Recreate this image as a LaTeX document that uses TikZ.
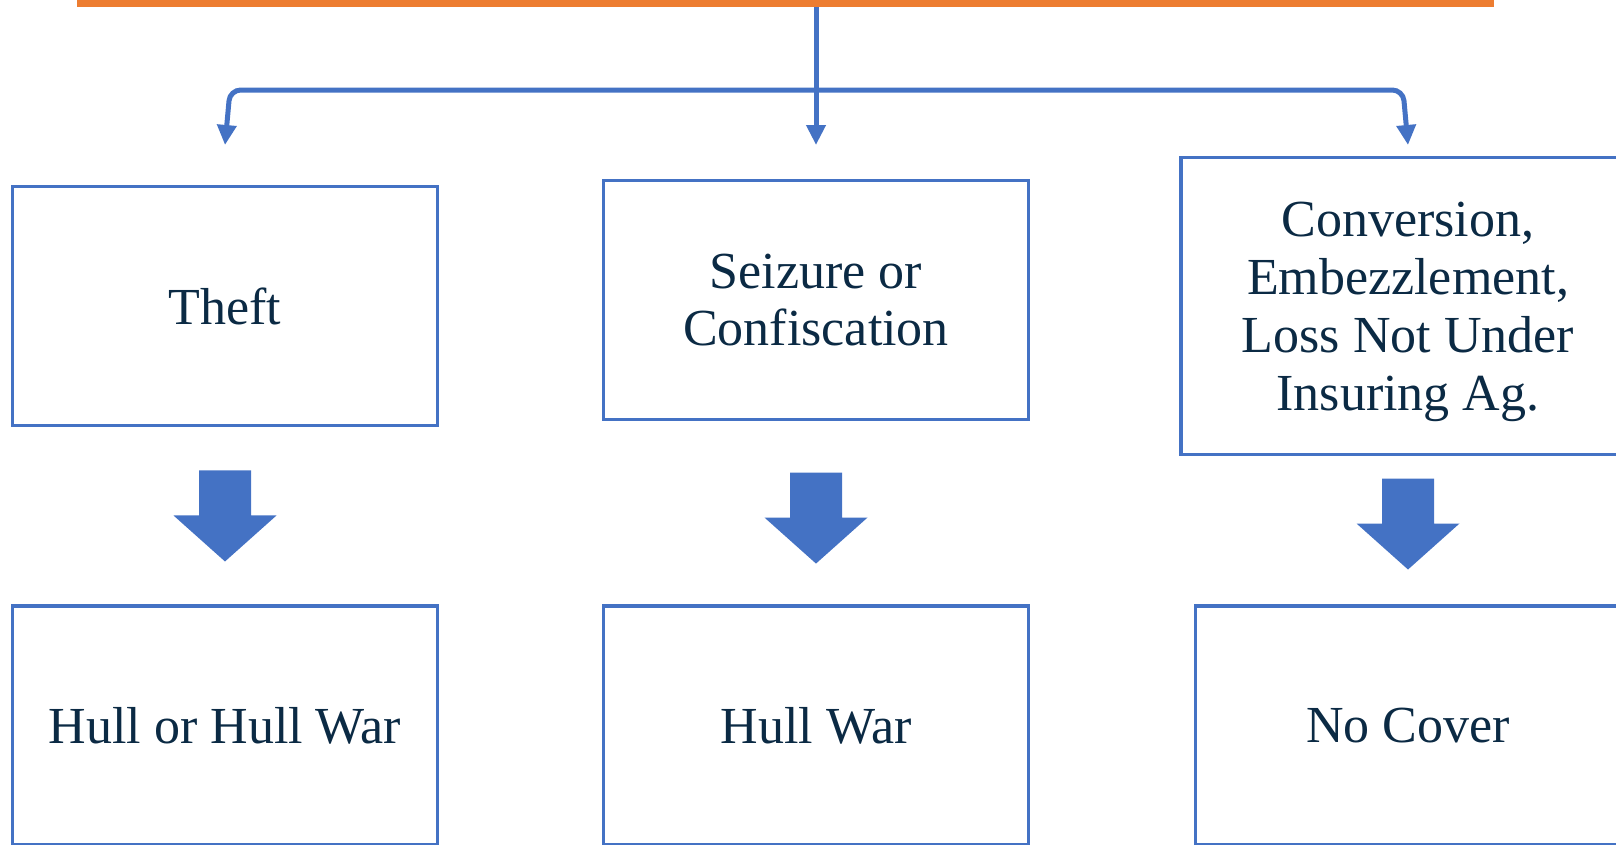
\documentclass[tikz,border=0pt]{standalone}
\usepackage{fontspec}
\setmainfont{Liberation Serif}
\usetikzlibrary{arrows.meta,calc}
\definecolor{officeblue}{RGB}{68,114,196}
\definecolor{officeorange}{RGB}{237,125,49}
\definecolor{inkblue}{RGB}{11,42,68}
\tikzset{%
  >={Triangle[width=14pt,length=15pt]},
  % Specifications for style of nodes:
  titlebar/.style = {rectangle, fill=officeorange, anchor=south,
                     minimum width=1062.75pt, minimum height=60pt},
  case/.style = {rectangle, draw=officeblue, line width=2.6pt, fill=white,
                 minimum width=319pt, minimum height=179pt,
                 text=inkblue, align=center,
                 font=\fontsize{39}{42.5}\selectfont},
  link/.style = {draw=officeblue, line width=3.75pt, ->},
  blockarrow/.pic = {\fill[officeblue] (-26,0) -- (26,0) -- (26,45) -- (51.5,45)
                     -- (0,91) -- (-51.5,45) -- (-26,45) -- cycle;},
}
\begin{document}
\begin{tikzpicture}[x=0.75pt, y=-0.75pt]
  \clip (0,0) rectangle (1616,844);
  % Specification of nodes (position, etc.)
  \node (title) [titlebar] at (785.5,7) {};

  \node (theft) [case] at (225,306) {Theft};
  \node (seizure) [case] at (816,300) {Seizure or\\Confiscation};
  \node (conversion) [case, minimum width=340.5pt, minimum height=222.4pt,
        text depth=0pt, font=\fontsize{39}{43.5}\selectfont]
        at (1408,306) {Conversion,\\Embezzlement,\\Loss Not Under\\Insuring Ag.};

  \node (hull) [case] at (225,725.5) {Hull or Hull War};
  \node (hullwar) [case] at (816,725.5) {Hull War};
  \node (nocover) [case] at (1408,725.5) {No Cover};

  \coordinate (rail) at (0,90);
  \coordinate (tiprow) at (0,145);

  % Specification of lines between nodes specified above
  \draw[link] (title.south -| seizure.north) -- (seizure.north |- tiprow);
  \draw[link, <->, rounded corners=8pt] (theft.north |- tiprow)
     -- ($(theft.north |- rail)+(5,0)$) -- ($(conversion.north |- rail)+(-5,0)$)
     -- (conversion.north |- tiprow);

  % block arrows between the rows
  \pic at ($(theft.south)+(0,43.4)$) {blockarrow};
  \pic at ($(seizure.south)+(0,51.5)$) {blockarrow};
  \pic at ($(conversion.south)+(0,22.5)$) {blockarrow};
\end{tikzpicture}
\end{document}
